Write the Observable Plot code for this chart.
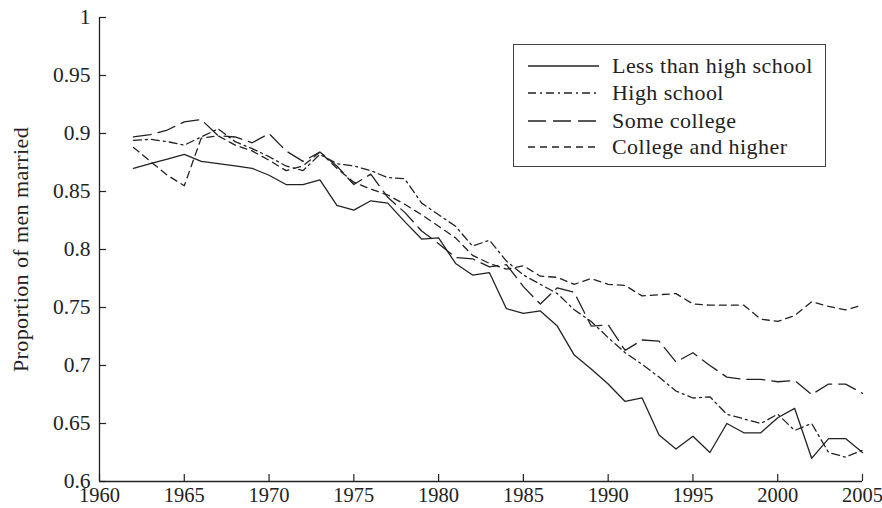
<!DOCTYPE html>
<html>
<head>
<meta charset="utf-8">
<script src="https://cdn.jsdelivr.net/npm/d3@7"></script>
<script src="https://cdn.jsdelivr.net/npm/@observablehq/plot@0.6"></script>
<style>
  html, body { margin: 0; padding: 0; background: #fff; }
  #wrap { position: relative; width: 882px; height: 508px; font-family: "Liberation Serif", serif; color: #222; }
  #legend { position: absolute; left: 513px; top: 44px; width: 311px; height: 121px; border: 1.5px solid #444; background: #fff; }
  #legend .row { position: absolute; left: 0; height: 26px; display: flex; align-items: center; font-size: 22px; letter-spacing: 0.45px; white-space: nowrap; }
  #legend svg { margin-left: 14px; margin-right: 13px; }
  g[aria-label="y-axis label"] text { letter-spacing: 0.4px; }
</style>
</head>
<body>
<div id="wrap"></div>
<script>
const years = d3.range(1962, 2006);
const seriesNames = ["Less than high school", "High school", "Some college", "College and higher"];
const lessThanHS = [0.870, 0.874, 0.878, 0.882, 0.876, 0.874, 0.872, 0.870, 0.864, 0.856, 0.856, 0.860, 0.838, 0.834, 0.842, 0.840, 0.824, 0.809, 0.810, 0.788, 0.778, 0.780, 0.749, 0.745, 0.747, 0.734, 0.709, 0.697, 0.684, 0.669, 0.672, 0.640, 0.628, 0.639, 0.625, 0.650, 0.642, 0.642, 0.655, 0.663, 0.620, 0.637, 0.637, 0.625];
const highSchool = [0.894, 0.895, 0.893, 0.890, 0.897, 0.904, 0.893, 0.887, 0.880, 0.872, 0.868, 0.882, 0.874, 0.872, 0.868, 0.862, 0.861, 0.840, 0.830, 0.820, 0.803, 0.808, 0.790, 0.778, 0.770, 0.762, 0.748, 0.738, 0.724, 0.711, 0.701, 0.690, 0.678, 0.672, 0.673, 0.658, 0.654, 0.650, 0.658, 0.644, 0.650, 0.625, 0.621, 0.627];
const someCollege = [0.897, 0.899, 0.903, 0.910, 0.912, 0.898, 0.897, 0.892, 0.900, 0.885, 0.876, 0.884, 0.872, 0.856, 0.865, 0.845, 0.832, 0.816, 0.805, 0.793, 0.792, 0.785, 0.787, 0.768, 0.753, 0.767, 0.763, 0.734, 0.735, 0.713, 0.722, 0.721, 0.703, 0.711, 0.700, 0.690, 0.688, 0.688, 0.686, 0.687, 0.675, 0.684, 0.684, 0.676];
const collegePlus = [0.888, 0.876, 0.864, 0.855, 0.896, 0.898, 0.890, 0.885, 0.877, 0.868, 0.872, 0.884, 0.870, 0.858, 0.852, 0.847, 0.839, 0.830, 0.820, 0.810, 0.795, 0.788, 0.783, 0.786, 0.777, 0.776, 0.770, 0.775, 0.770, 0.769, 0.760, 0.761, 0.762, 0.753, 0.752, 0.752, 0.752, 0.740, 0.738, 0.743, 0.755, 0.751, 0.748, 0.752];
const xTicks = [1960, 1965, 1970, 1975, 1980, 1985, 1990, 1995, 2000, 2005];
const yTicks = [0.6, 0.65, 0.7, 0.75, 0.8, 0.85, 0.9, 0.95, 1];
const dashes = [null, "8,4,2,4", "18,7", "7,5"];

const valuesBySeries = [lessThanHS, highSchool, someCollege, collegePlus];
const rows = valuesBySeries.map((vals, i) => years.map((yr, j) => ({series: seriesNames[i], year: yr, value: vals[j]})));

const ink = "#222";
const chart = Plot.plot({
  width: 882,
  height: 508,
  marginLeft: 99,
  marginRight: 20,
  marginTop: 17,
  marginBottom: 27,
  style: {fontFamily: "'Liberation Serif', serif", fontSize: "21px", color: ink, background: "#fff", overflow: "visible"},
  x: {domain: [1960, 2005]},
  y: {domain: [0.6, 1]},
  marks: [
    Plot.axisX({ticks: xTicks, tickSize: 0, tickPadding: 6, tickFormat: d => String(d), label: null, fontSize: 20.5}),
    Plot.axisY({ticks: yTicks, tickSize: 0, tickPadding: 9, tickFormat: d => String(+d.toFixed(2)), label: null, fontSize: 21.5}),
    Plot.axisY({ticks: [], tickSize: 0, label: "Proportion of men married", labelAnchor: "center", labelArrow: "none", labelOffset: 87, fontSize: 22}),
    Plot.ruleX([1960], {stroke: ink, strokeWidth: 1.3}),
    Plot.ruleY([0.6], {stroke: ink, strokeWidth: 1.3}),
    Plot.ruleX(xTicks, {y1: 0.6, y2: 0.606, stroke: ink, strokeWidth: 1.2}),
    Plot.ruleY(yTicks, {x1: 1960, x2: 1960.42, stroke: ink, strokeWidth: 1.2}),
    ...rows.map((r, i) => Plot.line(r, {x: "year", y: "value", stroke: ink, strokeWidth: 1.3, strokeDasharray: dashes[i]}))
  ]
});

const wrap = document.getElementById("wrap");
wrap.appendChild(chart);

const legend = document.createElement("div");
legend.id = "legend";
const rowTops = [8, 35, 63, 89];
seriesNames.forEach((name, i) => {
  const row = document.createElement("div");
  row.className = "row";
  row.style.top = rowTops[i] + "px";
  const dash = dashes[i] ? ` stroke-dasharray="${dashes[i]}"` : "";
  row.innerHTML = `<svg width="71" height="6"><line x1="0" y1="3" x2="71" y2="3" stroke="${ink}" stroke-width="1.3"${dash}/></svg><span>${name}</span>`;
  legend.appendChild(row);
});
wrap.appendChild(legend);
</script>
</body>
</html>
